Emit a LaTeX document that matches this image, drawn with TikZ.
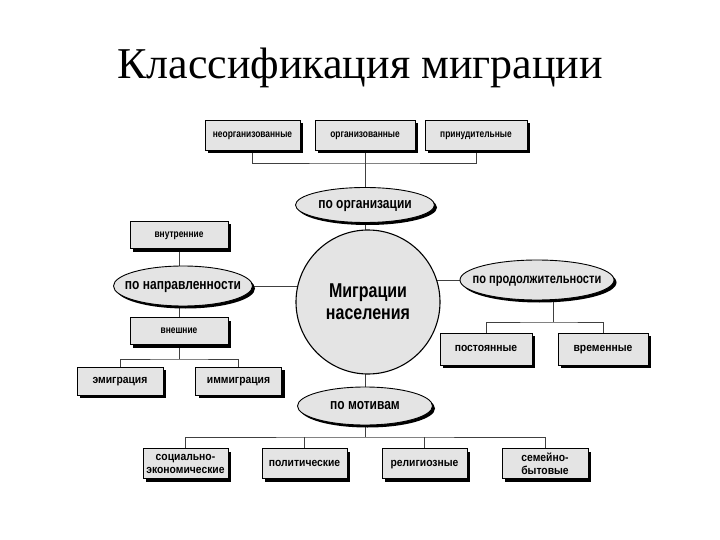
\documentclass[tikz,border=0pt]{standalone}
\usepackage{fontspec}
\setmainfont{Liberation Serif}
\newfontfamily\narrowsans[FakeStretch=0.8]{Liberation Sans}
\newfontfamily\widersans[FakeStretch=0.9]{Liberation Sans}
\usetikzlibrary{shapes.geometric,shadows,backgrounds}
\definecolor{boxgray}{HTML}{E4E4E4}
\begin{document}
\begin{tikzpicture}[x=1pt,y=-1pt,
  conn/.style={draw=black!75, line width=0.6pt},
  boxnode/.style={draw, fill=boxgray, line width=0.6pt, inner sep=1pt, align=center,
    font=\narrowsans\bfseries\fontsize{10.5}{12.5}\selectfont,
    drop shadow={shadow xshift=3pt, shadow yshift=-3pt, fill=black, opacity=1}},
  bigtext/.style={font=\widersans\bfseries\fontsize{11.5}{13}\selectfont},
  onetext/.style={text height=7.5pt, text depth=2pt},
  ovalbase/.style={ellipse, draw, fill=boxgray, line width=0.9pt, inner sep=0pt,
    drop shadow={shadow xshift=2.5pt, shadow yshift=-2.5pt, fill=black, opacity=1}},
  ovalnode/.style={ovalbase,
    label={[font=\narrowsans\bfseries\fontsize{15}{18}\selectfont, text height=10pt, text depth=3pt, inner sep=0pt]center:#1}},
  ovalsmall/.style={ovalbase,
    label={[font=\narrowsans\bfseries\fontsize{13.8}{18}\selectfont, text height=10pt, text depth=3pt, inner sep=0pt]center:#1}},
  centernode/.style={circle, draw, fill=boxgray, line width=1.1pt, inner sep=0pt, align=center,
    font=\narrowsans\bfseries\fontsize{20}{22}\selectfont}
]
\useasboundingbox (0,0) rectangle (720,540);

\node[font=\fontsize{44}{48}\selectfont] (title) at (360,68) {Классификация миграции};

% top group
\node[boxnode, onetext, minimum width=95pt, minimum height=30pt] (t1) at (252.5,135) {неорганизованные};
\node[boxnode, onetext, minimum width=100pt, minimum height=30pt] (t2) at (365,135) {организованные};
\node[boxnode, onetext, minimum width=102pt, minimum height=30pt] (t3) at (476,135) {принудительные};
\node[ovalnode={по организации}, minimum width=139pt, minimum height=35pt] (org) at (365,205) {};

% center
\node[centernode, minimum size=144pt] (circ) at (368,302) {Миграции\\населения};

% left group
\node[boxnode, onetext, minimum width=98pt, minimum height=27pt] (vn) at (179,235) {внутренние};
\node[ovalnode={по направленности}, minimum width=139pt, minimum height=40pt] (napr) at (183,286) {};
\node[boxnode, onetext, minimum width=98pt, minimum height=27pt] (vsh) at (179,331) {внешние};
\node[boxnode, bigtext, onetext, minimum width=86pt, minimum height=28pt] (em) at (120,381) {эмиграция};
\node[boxnode, bigtext, onetext, minimum width=86pt, minimum height=28pt] (im) at (238.5,381) {иммиграция};

% right group
\node[ovalsmall={по продолжительности}, minimum width=154pt, minimum height=40pt] (prod) at (537,280) {};
\node[boxnode, bigtext, onetext, minimum width=92pt, minimum height=32pt] (post) at (486,349) {постоянные};
\node[boxnode, bigtext, onetext, minimum width=90pt, minimum height=32pt] (vrem) at (603,349) {временные};

% bottom group
\node[ovalnode={по мотивам}, minimum width=135pt, minimum height=38pt] (mot) at (365,406) {};
\node[boxnode, bigtext, minimum width=85pt, minimum height=30pt] (b1) at (185.5,463.5) {социально-\\экономические};
\node[boxnode, bigtext, onetext, minimum width=85pt, minimum height=30pt] (b2) at (304.5,463.5) {политические};
\node[boxnode, bigtext, onetext, minimum width=85pt, minimum height=30pt] (b3) at (424.5,463.5) {религиозные};
\node[boxnode, bigtext, minimum width=86pt, minimum height=30pt] (b4) at (545,463.5) {семейно-\\бытовые};

\coordinate (busT) at (365,163);
\coordinate (busL) at (179,359);
\coordinate (busR) at (553,322);
\coordinate (busB) at (365,437);

\begin{pgfonlayer}{background}
\fill[white] (0,0) rectangle (720,540);
\draw[conn] (t1.south) |- (busT) -| (t3.south);
\draw[conn] (t2.south) -- (t2.south |- org.center);
\draw[conn] (org.center) -- (org.center |- circ.center);
\draw[conn] (vn.south) -- (vn.south |- napr.center);
\draw[conn] (vsh.north) -- (vsh.north |- napr.center);
\draw[conn] (vsh.south) -- (busL);
\draw[conn] (em.north) |- (busL) -| (im.north);
\draw[conn] (napr.center) -- (napr.center -| circ.center);
\draw[conn] (circ.center |- prod.center) -- (prod.center);
\draw[conn] (busR |- prod.center) -- (busR);
\draw[conn] (post.north) |- (busR) -| (vrem.north);
\draw[conn] (mot.center) -- (mot.center |- circ.center);
\draw[conn] (mot.center) -- (busB);
\draw[conn] (b1.north) |- (busB) -| (b4.north);
\draw[conn] (b2.north) -- (b2.north |- busB);
\draw[conn] (b3.north) -- (b3.north |- busB);
\end{pgfonlayer}
\end{tikzpicture}
\end{document}
